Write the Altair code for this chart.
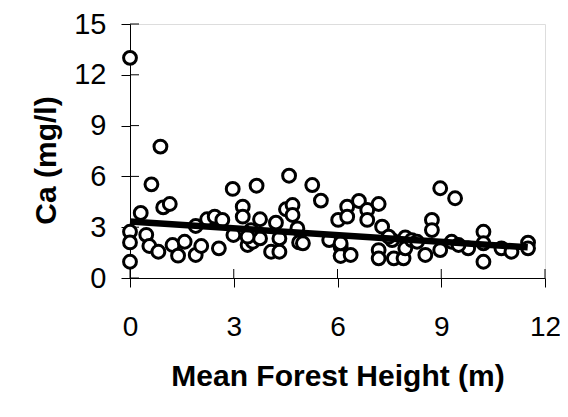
import altair as alt
import pandas as pd

height_m = [0.0, 0.88, 0.62, 0.31, 0.96, 1.15, 0.0, 0.0, 0.0, 0.47, 0.56, 0.82,
            1.23, 1.39, 1.58, 1.9, 1.9, 2.06, 2.23, 2.45, 2.67, 2.57, 2.97, 2.99,
            3.26, 3.26, 3.4, 3.55, 3.66, 3.76, 3.76, 3.5, 4.08, 4.32, 4.22, 4.32,
            4.51, 4.6, 4.7, 4.7, 4.89, 5.27, 5.52, 4.84, 5.0, 5.76, 6.02, 6.28,
            6.28, 6.62, 6.86, 7.19, 6.86, 7.29, 6.09, 6.09, 6.38, 7.19, 7.19, 7.63,
            7.91, 7.58, 7.96, 7.96, 8.15, 8.54, 8.73, 8.73, 8.97, 8.97, 9.4, 9.3,
            9.78, 10.22, 10.22, 10.22, 10.74, 11.03, 11.51, 11.51, 9.5, 6.09, 7.48,
            8.3, 3.4]
ca_mg_l = [13.0, 7.76, 5.53, 3.84, 4.17, 4.37, 2.73, 2.1, 0.96, 2.55, 1.89, 1.55,
           1.95, 1.32, 2.14, 1.36, 3.07, 1.89, 3.47, 3.62, 3.43, 1.75, 5.26, 2.54,
           4.21, 3.62, 1.95, 2.14, 5.45, 3.47, 2.34, 2.83, 1.55, 1.55, 3.27, 2.34,
           4.06, 6.04, 4.31, 3.72, 2.1, 5.49, 4.57, 2.93, 2.05, 2.24, 3.43, 4.21,
           3.62, 4.55, 4.02, 4.37, 3.43, 3.03, 1.85, 1.3, 1.36, 1.65, 1.16, 1.16,
           1.16, 2.24, 2.4, 1.75, 2.24, 1.36, 3.43, 2.83, 1.65, 5.3, 4.71, 2.14,
           1.75, 2.73, 2.05, 0.96, 1.75, 1.55, 2.09, 1.75, 1.95, 2.05, 2.44,
           2.14, 2.44]

fit_x = [0.0, 11.5]
fit_y = [3.33, 1.81]

x_ticks = [0, 3, 6, 9, 12]
y_ticks = [0, 3, 6, 9, 12, 15]

W, H = 415, 254

pts = pd.DataFrame({"h": height_m, "ca": ca_mg_l})
fit = pd.DataFrame({"h": fit_x, "ca": fit_y})
xt = pd.DataFrame({"h": x_ticks})
yt = pd.DataFrame({"ca": y_ticks})

FONT = "Liberation Sans"
xscale = alt.Scale(domain=[0, 12], nice=False)
yscale = alt.Scale(domain=[0, 15], nice=False)

x_axis = alt.Axis(values=x_ticks, title="Mean Forest Height (m)", grid=False,
                  tickSize=9, labelPadding=26, labelFontSize=28, labelFont=FONT,
                  labelColor="black", titleFont=FONT, titleFontSize=30,
                  titleFontWeight="bold", titleColor="black", titlePadding=20,
                  domainColor="black", tickColor="black", labelFlush=False)
y_axis = alt.Axis(values=y_ticks, title="Ca (mg/l)", grid=False,
                  tickSize=9, labelPadding=15, labelFontSize=29, labelFont=FONT,
                  labelColor="black", titleFont=FONT, titleFontSize=30,
                  titleFontWeight="bold", titleColor="black", titlePadding=12,
                  titleY=136,
                  domainColor="black", tickColor="black", labelFlush=False)

points = alt.Chart(pts).mark_point(
    shape="circle", filled=False, fill="white", fillOpacity=1, opacity=1,
    stroke="black", strokeWidth=3, size=165
).encode(
    x=alt.X("h:Q", scale=xscale, axis=x_axis),
    y=alt.Y("ca:Q", scale=yscale, axis=y_axis),
)

line = alt.Chart(fit).mark_line(color="black", strokeWidth=6.5).encode(
    x=alt.X("h:Q", scale=xscale),
    y=alt.Y("ca:Q", scale=yscale),
)

xin = alt.Chart(xt).mark_rule(color="black", strokeWidth=1).encode(
    x=alt.X("h:Q", scale=xscale),
    y=alt.value(H - 9), y2=alt.value(H),
)
yin = alt.Chart(yt).mark_rule(color="black", strokeWidth=1).encode(
    y=alt.Y("ca:Q", scale=yscale),
    x=alt.value(0), x2=alt.value(9),
)

chart = alt.layer(xin, yin, points, line).properties(
    width=W, height=H,
    autosize=alt.AutoSizeParams(type="none"),
    padding={"left": 122, "top": 16, "right": 15, "bottom": 120},
).configure_view(stroke=None).configure(background="white")

chart.save("out.html", embed_options={"renderer": "svg", "actions": False})
